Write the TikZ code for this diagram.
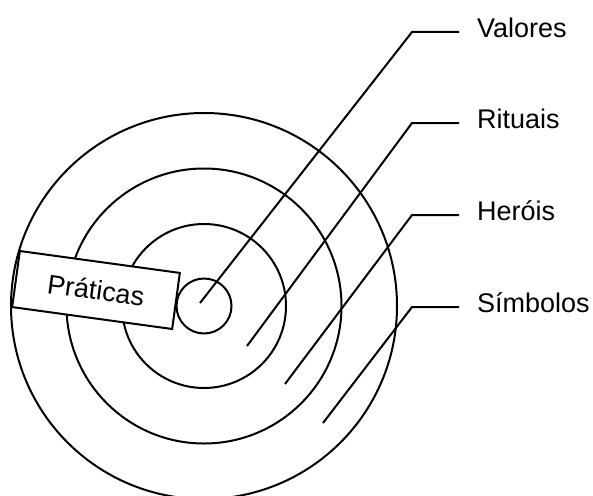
\documentclass[tikz,border=0pt]{standalone}
\usepackage{fontspec}
\setmainfont{Liberation Sans}
\begin{document}
\begin{tikzpicture}[x=1pt,y=-1pt,
  ring/.style={draw,circle,line width=2pt,inner sep=0pt},
  leader/.style={draw,line width=2pt,line join=miter},
  lbl/.style={anchor=base west,inner sep=0pt,font=\fontsize{27}{32}\selectfont},
  boxstyle/.style={draw,fill=white,line width=2pt,inner sep=0pt,minimum width=161.5pt,minimum height=56.6pt,rotate=-7.8,font=\fontsize{27}{32}\selectfont}]
\useasboundingbox (0,0) rectangle (593,495);
\node[ring,minimum size=386pt] (c4) at (204,306) {};
\node[ring,minimum size=275pt] (c3) at (204,306) {};
\node[ring,minimum size=164pt] (c2) at (204,306) {};
\node[ring,minimum size=55pt] (c1) at (204,306) {};
\node[boxstyle] (prat) at (96,290) {Práticas};
% leader start points and corners
\coordinate (sV) at (200,303);
\coordinate (kV) at (412,32);
\coordinate (eV) at (459,32);
\coordinate (sR) at (247,346);
\coordinate (kR) at (412,123);
\coordinate (eR) at (459,123);
\coordinate (sH) at (285,384);
\coordinate (kH) at (412,215);
\coordinate (eH) at (459,215);
\coordinate (sS) at (323,423);
\coordinate (kS) at (412,307);
\coordinate (eS) at (459,307);
\node[lbl] (lV) at (477,37.5) {Valores};
\node[lbl] (lR) at (477,128.5) {Rituais};
\node[lbl] (lH) at (477,220.5) {Heróis};
\node[lbl] (lS) at (477,312.5) {Símbolos};
\draw[leader] (sV) -- (kV) -- (eV);
\draw[leader] (sR) -- (kR) -- (eR);
\draw[leader] (sH) -- (kH) -- (eH);
\draw[leader] (sS) -- (kS) -- (eS);
\end{tikzpicture}
\end{document}
